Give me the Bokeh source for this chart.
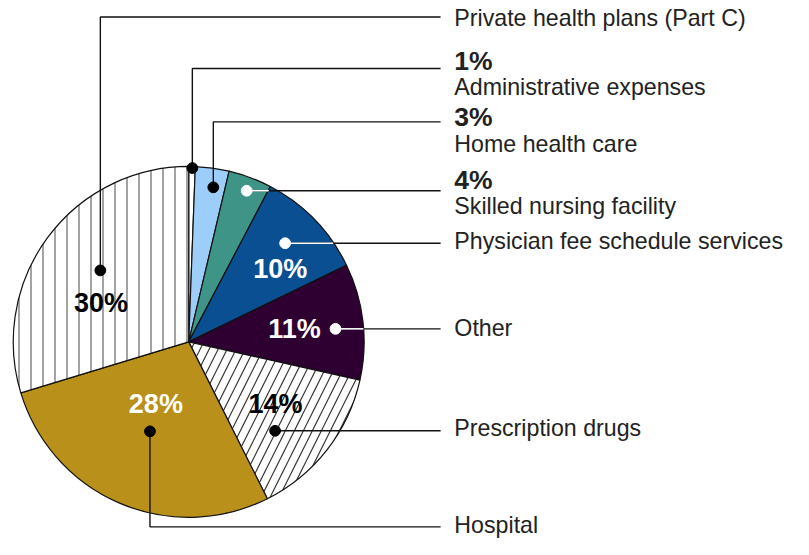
import numpy as np
from bokeh.plotting import figure
from bokeh.models import Range1d
from bokeh.embed import file_html
from bokeh.resources import INLINE
from bokeh.core.properties import value

# ---------------- data ----------------
categories = ["Administrative expenses", "Home health care", "Skilled nursing facility",
              "Physician fee schedule services", "Other", "Prescription drugs",
              "Hospital", "Private health plans (Part C)"]
shares = [0.6, 3.1, 4.0, 10.1, 10.7, 14.1, 27.7, 29.7]
pct_labels = ["1%", "3%", "4%", "10%", "11%", "14%", "28%", "30%"]

# ---------------- style / layout ----------------
fills = ["#ffffff", "#9dcdf9", "#3f9488", "#0b4f93", "#2e0031", "#ffffff", "#b8901a", "#ffffff"]
hatches = [None, None, None, None, None, "/", None, "|"]
hatch_scales = [None, None, None, None, None, 18, None, 12]
hatch_colors = [None, None, None, None, None, "#333333", None, "#666666"]
dot_colors = ["black", "black", "white", "white", "white", "black", "black", "black"]
# (fraction of slice angle, fraction of radius)
dot_place = [(0.55, 1.0), (0.61, 0.90), (0.52, 0.93), (0.45, 0.79),
             (0.54, 0.84), (0.66, 0.71), (0.50, 0.56), (0.525, 0.65)]
leader_kind = ["up", "up", "right", "right", "right", "right", "down", "up"]
leader_run_y = [70, 125, None, None, None, None, 542, 17]   # image-y of horizontal run
white_lead = [False, False, True, True, True, False, False, False]
name_y = [89, 148, 212, 248, 337, 440, 540, 18]
pct_y = [62, 120, 185, None, None, None, None, None]
inner = {3: (285.5, 276.5, "white"), 4: (300, 338, "white"), 5: (280.5, 415.5, "black"),
         6: (158.5, 415, "white"), 7: (102.5, 311, "black")}

FONT = "Liberation Sans"
REF_W, REF_H = 809, 555
FIG_W, FIG_H = 793, 539
def Y(img_y):
    return REF_H - img_y

CX, CY, R = 192.0, Y(351.5), 179.0
X_END = 449
LABEL_X = 463
TXT = "#222222"
K = FIG_W / REF_W

p = figure(width=FIG_W, height=FIG_H, x_range=Range1d(0, REF_W), y_range=Range1d(0, REF_H),
           output_backend="svg", toolbar_location=None, min_border=0)
p.axis.visible = False
p.grid.visible = False
p.outline_line_color = None
p.background_fill_color = "white"
p.border_fill_color = "white"

vals = np.array(shares, dtype=float)
frac = vals / vals.sum()
cum_after = np.cumsum(frac)
cum_before = cum_after - frac
start = np.pi / 2 - 2 * np.pi * cum_before
end = np.pi / 2 - 2 * np.pi * cum_after

for i in range(len(categories)):
    kw = {}
    if hatches[i]:
        kw = dict(hatch_pattern=hatches[i], hatch_scale=hatch_scales[i],
                  hatch_color=hatch_colors[i], hatch_weight=1.2)
    p.wedge(x=[CX], y=[CY], radius=R, start_angle=[start[i]], end_angle=[end[i]],
            direction="clock", fill_color=fills[i], line_color="#111111", line_width=1.2, **kw)

def inside(i, x, y):
    dx, dy = x - CX, y - CY
    r = np.hypot(dx, dy)
    if r > R:
        return False
    a = (np.pi / 2 - np.arctan2(dy, dx)) % (2 * np.pi)
    return 2 * np.pi * cum_before[i] <= a <= 2 * np.pi * cum_after[i]

for i in range(len(categories)):
    fa, fr = dot_place[i]
    ang = start[i] + (end[i] - start[i]) * fa
    dx = CX + R * fr * np.cos(ang)
    dy = CY + R * fr * np.sin(ang)
    kind = leader_kind[i]
    if kind in ("up", "down"):
        ry = Y(leader_run_y[i])
        p.line([dx, dx, X_END], [dy, ry, ry], line_color="#111111", line_width=1.4)
    else:
        p.line([dx, X_END], [dy, dy], line_color="#111111", line_width=1.4)
        if white_lead[i]:
            xe = dx
            while inside(i, xe + 0.5, dy):
                xe += 0.5
            p.line([dx, xe], [dy, dy], line_color="white", line_width=1.6)
    p.scatter([dx], [dy], size=11 * K, fill_color=dot_colors[i], line_color=dot_colors[i])

name_size = f"{23.7 * K:.1f}px"
pct_size = f"{27 * K:.1f}px"
inner_size = f"{27.5 * K:.1f}px"

# right-hand labels
for i in range(len(categories)):
    p.text([LABEL_X], [Y(name_y[i])], text=[categories[i]], text_font=value(FONT),
           text_font_size=name_size, text_color=TXT, text_baseline="middle", text_align="left")
    if pct_y[i] is not None:
        p.text([LABEL_X], [Y(pct_y[i])], text=[pct_labels[i]], text_font=value(FONT),
               text_font_size=pct_size, text_font_style="bold", text_color=TXT,
               text_baseline="middle", text_align="left")

# in-pie percentages
for i, (tx, ty, col) in inner.items():
    p.text([tx], [Y(ty)], text=[pct_labels[i]], text_font=value(FONT),
           text_font_size=inner_size, text_font_style="bold", text_color=col,
           text_baseline="middle", text_align="center")

open("out.html", "w").write(file_html(p, INLINE))
